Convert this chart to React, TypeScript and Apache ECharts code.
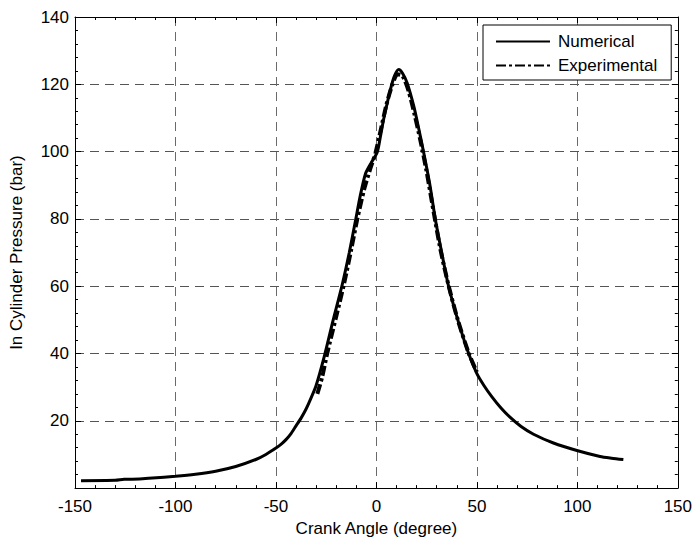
import React, { useEffect, useRef } from "react";
import * as echarts from "echarts";

const xTicks = [-150, -100, -50, 0, 50, 100, 150];
const yTicks = [0, 20, 40, 60, 80, 100, 120, 140];

const numericalAngle = [
  -147, -130, -125.6, -118, -111.4, -100, -90, -80, -70, -60, -55, -50, -47.5, -45, -42.5, -40,
  -37.5, -35, -32.5, -30, -26, -21.5, -17, -13.5, -10.4, -8, -5.4, -2.5, 0.4, 2, 3.6, 7, 9, 11.1,
  13, 15.3, 18.6, 21, 23.5, 26.5, 29.3, 32.5, 35.9, 40.5, 45.9, 50, 53.5, 57.5, 62, 66.6, 72,
  78.2, 88.1, 100.2, 111.3, 117, 122.9,
];
const numericalPressure = [
  2.2, 2.3, 2.6, 2.7, 3.0, 3.5, 4.1, 5.0, 6.4, 8.5, 10.0, 11.9, 13.0, 14.4, 16.2, 18.5,
  20.8, 23.5, 26.8, 30.5, 39, 50, 60.5, 70, 79.5, 87, 93.5, 96.8, 99.8, 104.5, 109.6, 118.5, 122.5, 124.4,
  123.3, 120.4, 113.5, 107, 99.8, 90.5, 80, 70, 60, 50, 40, 34, 30.5, 27.1, 23.8, 21, 18.3,
  16, 13.4, 11.1, 9.4, 8.9, 8.5,
];

const experimentalAngle = [
  -29.4, -27, -24.5, -20, -16, -12.5, -9.5, -6, -3, -0.5, 2, 5, 8, 10.5, 13, 16, 19, 22, 25,
  28.5, 32, 36, 40.5, 46, 50,
];
const experimentalPressure = [
  28, 33, 40, 51, 61, 71, 80, 89, 95, 99.5, 106, 114, 120, 123, 122.5, 118, 111, 103, 94,
  82, 70.5, 60, 50, 40, 34.5,
];

const seriesNames = ["Numerical", "Experimental"];
const xTitle = "Crank Angle (degree)";
const yTitle = "In Cylinder Pressure (bar)";

const FONT = "'Liberation Sans', Arial, Helvetica, sans-serif";

export default function App() {
  const ref = useRef<HTMLDivElement>(null);
  useEffect(() => {
    if (!ref.current) return;
    const chart = echarts.init(ref.current, undefined, { renderer: "svg" });
    const numData = numericalAngle.map((x, i) => [x, numericalPressure[i]]);
    const expData = experimentalAngle.map((x, i) => [x, experimentalPressure[i]]);
    const xMin = xTicks[0];
    const xMax = xTicks[xTicks.length - 1];
    const yMin = yTicks[0];
    const yMax = yTicks[yTicks.length - 1];
    const line = () => ({ show: true, onZero: false, lineStyle: { color: "#000", width: 1 } });
    const tick = () => ({ show: true, inside: true, length: 6, lineStyle: { color: "#000", width: 1 } });
    const minor = () => ({ show: true, splitNumber: 5, length: 3, lineStyle: { color: "#000", width: 1 } });
    chart.setOption({
      animation: false,
      backgroundColor: "#fff",
      textStyle: { fontFamily: FONT },
      grid: { left: 74, right: 15, top: 17, bottom: 50, containLabel: false },
      legend: {
        data: seriesNames,
        orient: "vertical",
        left: 483,
        top: 25,
        backgroundColor: "#fff",
        borderColor: "#000",
        borderWidth: 1,
        borderRadius: 0,
        padding: [8, 14, 6, 12],
        itemGap: 7,
        itemWidth: 54,
        itemHeight: 20,
        itemStyle: { opacity: 0 },
        textStyle: { fontSize: 17, color: "#000", fontFamily: FONT, padding: [0, 0, 0, 3] },
      },
      xAxis: [
        {
          type: "value",
          min: xMin,
          max: xMax,
          interval: 50,
          name: xTitle,
          nameLocation: "middle",
          nameGap: 31,
          nameTextStyle: { fontSize: 17, color: "#000", fontFamily: FONT },
          axisLine: line(),
          axisTick: tick(),
          minorTick: minor(),
          axisLabel: { fontSize: 17, color: "#000", margin: 10, fontFamily: FONT },
          splitLine: { show: true, lineStyle: { color: "#6a6a6a", width: 1, type: [9, 6] } },
        },
        {
          type: "value",
          position: "top",
          min: xMin,
          max: xMax,
          interval: 50,
          axisLine: line(),
          axisTick: tick(),
          minorTick: minor(),
          axisLabel: { show: false },
          splitLine: { show: false },
        },
      ],
      yAxis: [
        {
          type: "value",
          min: yMin,
          max: yMax,
          interval: 20,
          name: yTitle,
          nameLocation: "middle",
          nameGap: 50,
          nameTextStyle: { fontSize: 17, color: "#000", fontFamily: FONT },
          axisLine: line(),
          axisTick: tick(),
          minorTick: minor(),
          axisLabel: {
            fontSize: 17,
            color: "#000",
            margin: 6,
            fontFamily: FONT,
            formatter: (v: number) => (v === 0 ? "" : String(v)),
          },
          splitLine: { show: true, lineStyle: { color: "#555", width: 1, type: [9, 6] } },
        },
        {
          type: "value",
          position: "right",
          min: yMin,
          max: yMax,
          interval: 20,
          axisLine: line(),
          axisTick: tick(),
          minorTick: minor(),
          axisLabel: { show: false },
          splitLine: { show: false },
        },
      ],
      series: [
        {
          name: seriesNames[0],
          type: "line",
          xAxisIndex: 0,
          yAxisIndex: 0,
          data: numData,
          symbol: "none",
          smooth: 0.25,
          lineStyle: { color: "#000", width: 3 },
          itemStyle: { color: "#000" },
          z: 3,
        },
        {
          name: seriesNames[1],
          type: "line",
          xAxisIndex: 0,
          yAxisIndex: 0,
          data: expData,
          symbol: "none",
          smooth: 0.25,
          lineStyle: { color: "#000", width: 4, type: [10, 3, 3, 3] },
          itemStyle: { color: "#000" },
          z: 4,
        },
      ],
    });
    return () => chart.dispose();
  }, []);
  return <div ref={ref} style={{ width: 695, height: 542, position: "absolute", left: 0, top: 0 }} />;
}
